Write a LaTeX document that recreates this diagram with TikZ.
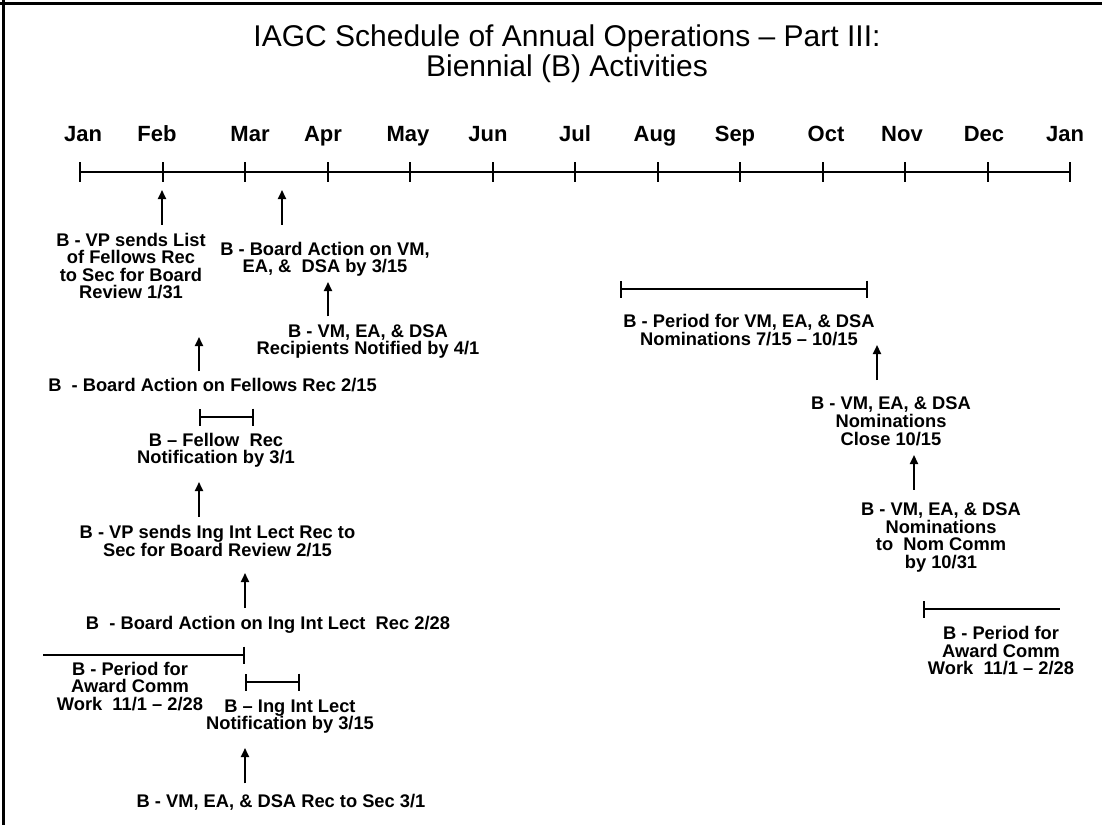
\documentclass[tikz,border=0pt]{standalone}
\usepackage{fontspec}
\setmainfont{Liberation Sans}
\usetikzlibrary{arrows.meta}
\begin{document}
\begin{tikzpicture}[x=1pt,y=-1pt,
                      lbl/.style={font=\bfseries\fontsize{18.3}{17.6}\selectfont,align=center,inner sep=0pt,anchor=north},
                      arr/.style={line width=2pt,-{Triangle[length=9pt,width=8pt]},shorten <=8pt},
                      span/.style={line width=2.5pt}]
                      \useasboundingbox (0,0) rectangle (1102,825);
                      \draw[line width=3pt] (0,3) -- (1102,3);
                      \draw[line width=3pt] (3,0) -- (3,825);
                      \node[font=\fontsize{30}{30.5}\selectfont,align=center,inner sep=0pt,anchor=north] (title) at (567,24.5)
                          {IAGC Schedule of Annual Operations -- Part III:\\Biennial (B) Activities};
                      \draw[line width=2pt] (80,172) -- (1070,172);
                      \foreach \i in {0,...,12}
                          \draw[line width=2pt] (80+82.5*\i,162) -- (80+82.5*\i,182);
                      \foreach \m/\x [count=\k] in {Jan/83,Feb/157,Mar/250,Apr/323,May/408,Jun/488,Jul/575,Aug/655,Sep/735,Oct/826,Nov/902,Dec/984,Jan/1065}
                          \node[font=\bfseries\fontsize{22}{24}\selectfont,anchor=base,inner sep=0pt] (mon\k) at (\x,141.7) {\m};
                      \node[lbl] (vplist) at (131,232.7) {B - VP sends List\\of Fellows Rec\\to Sec for Board\\Review 1/31};
                      \node[lbl] (boardvm) at (325,241.7) {B - Board Action on VM,\\EA, \&~ DSA by 3/15};
                      \node[lbl] (vmnotified) at (368,324.4) {B - VM, EA, \& DSA\\Recipients Notified by 4/1};
                      \node[lbl] (boardfel) at (212.5,378.4) {B~ - Board Action on Fellows Rec 2/15};
                      \node[lbl] (felnotif) at (216,432.7) {B -- Fellow~ Rec\\Notification by 3/1};
                      \node[lbl] (vpinglect) at (217.5,525) {B - VP sends Ing Int Lect Rec to\\Sec for Board Review 2/15};
                      \node[lbl] (boardinglect) at (268,616) {B~ - Board Action on Ing Int Lect~ Rec 2/28};
                      \node[lbl] (awardleft) at (130,661.7) {B - Period for\\Award Comm\\Work~ 11/1 -- 2/28};
                      \node[lbl] (inglectnotif) at (290,699.4) {B -- Ing Int Lect\\Notification by 3/15};
                      \node[lbl] (vmrec) at (281,794.4) {B - VM, EA, \& DSA Rec to Sec 3/1};
                      \node[lbl] (vmperiod) at (749,314.4) {B - Period for VM, EA, \& DSA\\Nominations 7/15 -- 10/15};
                      \node[lbl] (vmclose) at (891,397) {B - VM, EA, \& DSA\\Nominations\\Close 10/15};
                      \node[lbl] (vmnomcomm) at (941,502.7) {B - VM, EA, \& DSA\\Nominations\\to~ Nom Comm\\by 10/31};
                      \node[lbl] (awardright) at (1001,626) {B - Period for\\Award Comm\\Work~ 11/1 -- 2/28};
                      \coordinate (fr1) at (199,417);
                      \coordinate (fr2) at (254,417);
                      \coordinate (il1) at (245,682);
                      \coordinate (il2) at (300,682);
                      \coordinate (vp1) at (620,289);
                      \coordinate (vp2) at (868,289);
                      \coordinate (awl1) at (43,655);
                      \coordinate (awl2) at (245,655);
                      \coordinate (awr1) at (923,609);
                      \coordinate (awr2) at (1060,609);
                      \draw[span,{Bar[width=17pt,line width=2pt]}-{Bar[width=17pt,line width=2pt]}] (fr1) -- (fr2);
                      \draw[span,{Bar[width=17pt,line width=2pt]}-{Bar[width=17pt,line width=2pt]}] (il1) -- (il2);
                      \draw[span,{Bar[width=17pt,line width=2pt]}-{Bar[width=17pt,line width=2pt]}] (vp1) -- (vp2);
                      \draw[span,-{Bar[width=17pt,line width=2pt]}] (awl1) -- (awl2);
                      \draw[span,{Bar[width=17pt,line width=2pt]}-] (awr1) -- (awr2);
                      \coordinate (febtip) at (162,190);
                      \coordinate (martip) at (282,190);
                      \coordinate (boardvmtip) at (328,282);
                      \coordinate (feltip) at (199,337);
                      \coordinate (felnotiftip) at (199,482);
                      \coordinate (vpingtip) at (245,573);
                      \coordinate (ingnotiftip) at (245,748);
                      \coordinate (vmperiodtip) at (877,345);
                      \coordinate (vmclosetip) at (914,455);
                      \draw[arr] (vplist.north -| febtip) -- (febtip);
                      \draw[arr,shorten <=17pt] (boardvm.north -| martip) -- (martip);
                      \draw[arr] (vmnotified.north -| boardvmtip) -- (boardvmtip);
                      \draw[arr,shorten <=7pt] (boardfel.north -| feltip) -- (feltip);
                      \draw[arr] (vpinglect.north -| felnotiftip) -- (felnotiftip);
                      \draw[arr] (boardinglect.north -| vpingtip) -- (vpingtip);
                      \draw[arr,shorten <=11pt] (vmrec.north -| ingnotiftip) -- (ingnotiftip);
                      \draw[arr,shorten <=17pt] (vmclose.north -| vmperiodtip) -- (vmperiodtip);
                      \draw[arr,shorten <=13pt] (vmnomcomm.north -| vmclosetip) -- (vmclosetip);
                  \end{tikzpicture}
\end{document}
